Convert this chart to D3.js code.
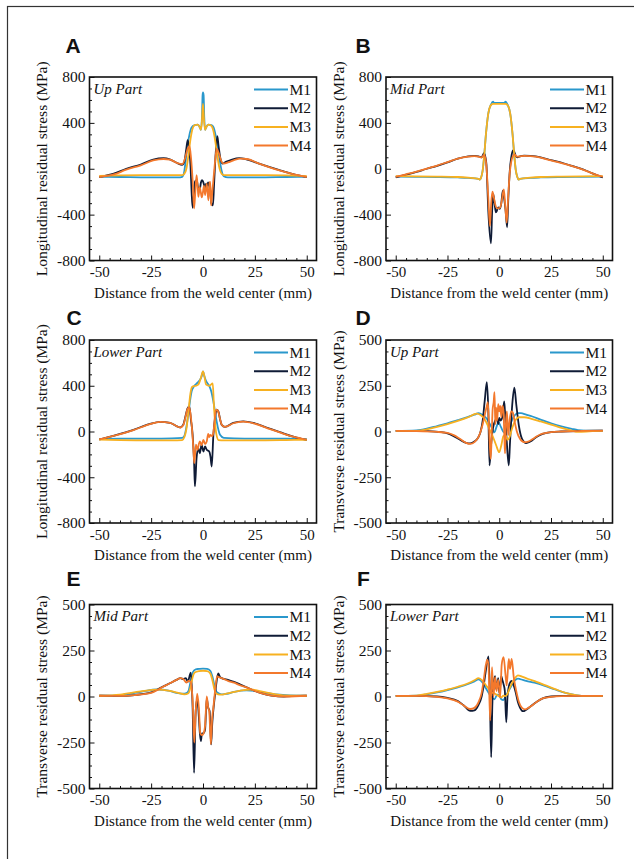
<!DOCTYPE html>
<html><head><meta charset="utf-8">
<script src="https://cdn.jsdelivr.net/npm/d3@7"></script>
<style>html,body{margin:0;padding:0;background:#fff;} svg{display:block;}</style>
</head><body>
<svg id="chart" width="634" height="859"></svg>
<script>
// ---------- DATA ----------
const seriesNames = ["M1", "M2", "M3", "M4"];
const xTicks = [-50, -25, 0, 25, 50];
const longTicks = [-800, -400, 0, 400, 800];
const transTicks = [-500, -250, 0, 250, 500];
const panelLetters = ["A", "B", "C", "D", "E", "F"];
const partNames = ["Up Part", "Mid Part", "Lower Part", "Up Part", "Mid Part", "Lower Part"];
const xTitle = "Distance from the weld center (mm)";
const longTitle = "Longitudinal residual stress (MPa)";
const transTitle = "Transverse residual stress (MPa)";

// Panel A - Up Part, longitudinal
const A_M1 = [[-50,-70],[-40,-72],[-30,-75],[-20,-76],[-12,-75],[-10,-70],[-9,-20],[-8.3,80],[-7.5,200],[-6.5,300],[-5.5,360],[-4,380],[-2.5,385],[-1.5,360],[-1,340],[-0.5,450],[-0.2,640],[0,665],[0.3,640],[0.6,450],[1,340],[1.5,360],[2.5,385],[4,380],[5,365],[6,300],[7,200],[8,80],[9,-20],[10,-65],[12,-75],[20,-76],[30,-75],[40,-72],[50,-70]];
const A_M2 = [[-50,-72],[-43,-42],[-37,0],[-30,37],[-24,80],[-19,92],[-16,82],[-12.5,50],[-10,35],[-9,60],[-8,180],[-7.4,250],[-6.8,200],[-6,20],[-5.5,-200],[-5,-340],[-4.5,-250],[-3.8,-110],[-3,-100],[-2.3,-170],[-1.5,-175],[-1,-120],[-0.5,-100],[0,-110],[0.5,-140],[1,-170],[1.5,-130],[2,-150],[2.5,-120],[3,-150],[3.5,-200],[4,-300],[4.8,-320],[5.3,-150],[6,100],[6.9,284],[7.5,200],[8.5,80],[9.5,45],[11,60],[14,80],[17.5,92],[20.5,85],[27,45],[36.5,-10],[43,-45],[50,-72]];
const A_M3 = [[-50,-62],[-40,-57],[-30,-55],[-20,-55],[-12,-55],[-10,-55],[-9,-45],[-8,0],[-7,120],[-6,260],[-5,350],[-4,380],[-2.5,385],[-1.5,360],[-1,340],[-0.5,420],[0,565],[0.5,420],[1,340],[1.5,360],[2.5,385],[4,375],[5,330],[6,230],[7,100],[8,0],[9,-45],[10,-55],[12,-55],[20,-55],[30,-55],[40,-57],[50,-65]];
const A_M4 = [[-50,-72],[-43,-50],[-37,-8],[-30,30],[-24,72],[-19,85],[-16,80],[-12.5,50],[-10,40],[-8.5,100],[-7.5,170],[-6.5,197],[-5.8,100],[-5,-100],[-4.3,-345],[-3.7,-200],[-3.1,-55],[-2.6,-150],[-2.2,-245],[-1.6,-160],[-1.1,-200],[-0.6,-250],[0,-200],[0.5,-150],[1,-230],[1.8,-130],[2.6,-275],[3.2,-120],[3.5,-115],[3.9,-320],[4.5,-200],[5,-100],[5.8,60],[6.6,176],[7.5,140],[9,60],[10,45],[12,55],[15,75],[18,88],[21,85],[27,45],[36,-10],[43,-45],[50,-72]];

// Panel B - Mid Part, longitudinal
const B_M1 = [[-50,-68],[-40,-70],[-30,-72],[-20,-76],[-15,-80],[-10,-88],[-9.3,-94],[-8.5,-60],[-8,-15],[-7.2,130],[-6.4,306],[-5.3,480],[-4,560],[-3,585],[-2.5,575],[0,575],[2.5,575],[3,585],[4,560],[5.3,480],[6.4,306],[7.2,130],[8,-15],[8.7,-70],[9.3,-94],[10,-88],[15,-80],[20,-76],[30,-72],[40,-70],[50,-68]];
const B_M2 = [[-50,-75],[-45,-52],[-40,-28],[-35,0],[-30,25],[-25,55],[-20,88],[-15,108],[-12,112],[-10,108],[-8.5,100],[-7.4,136],[-6.8,110],[-6.2,40],[-5.3,-364],[-4,-650],[-3.4,-350],[-2.9,-219],[-2.3,-300],[-1.6,-380],[-1.2,-370],[-0.5,-336],[0.3,-350],[1,-300],[1.7,-190],[2.3,-250],[3,-350],[3.8,-510],[4.4,-250],[5.1,-15],[5.8,100],[6.6,160],[7.2,150],[8,110],[8.7,100],[10,108],[12,114],[15,112],[20,100],[25,75],[31,48],[36,20],[40.7,-7],[45,-40],[50,-75]];
const B_M3 = [[-50,-65],[-40,-66],[-30,-68],[-20,-72],[-15,-78],[-10,-88],[-9.3,-94],[-8.5,-60],[-8,-15],[-7.2,130],[-6.4,306],[-5.3,480],[-4,555],[-3,565],[0,565],[3,565],[4,555],[5.3,480],[6.4,306],[7.2,130],[8,-15],[8.7,-70],[9.3,-94],[10,-88],[15,-78],[20,-72],[30,-68],[40,-66],[50,-65]];
const B_M4 = [[-50,-70],[-45,-48],[-40,-25],[-35,2],[-30,28],[-25,58],[-20,88],[-15,106],[-12,110],[-10,105],[-8.5,98],[-7.4,120],[-6.8,100],[-6.2,20],[-5.3,-250],[-4.5,-500],[-3.9,-300],[-3.3,-200],[-2.6,-250],[-1.8,-320],[-1,-345],[0.4,-340],[1.2,-280],[2.2,-180],[2.8,-300],[3.6,-470],[4.3,-250],[5.1,-30],[5.8,60],[6.6,110],[7.5,125],[8.5,105],[10,108],[12,112],[15,110],[20,98],[25,72],[31,45],[36,18],[40.7,-10],[45,-40],[50,-70]];

// Panel C - Lower Part, longitudinal
const C_M1 = [[-50,-65],[-40,-62],[-25,-62],[-15,-60],[-10,-55],[-9,-40],[-8,40],[-7,160],[-6.3,262],[-5.5,350],[-4.5,390],[-3,420],[-1.5,450],[-0.7,480],[0,525],[0.7,480],[1.5,440],[3,400],[4,350],[5,262],[6,150],[6.6,87],[7.5,10],[8.2,-29],[10,-55],[15,-60],[25,-62],[40,-62],[50,-65]];
const C_M2 = [[-50,-70],[-41.6,-29],[-33.5,15],[-25.5,67],[-20.7,85],[-15.9,75],[-12.5,45],[-11,35],[-9.5,60],[-8.5,130],[-7.5,200],[-6.6,219],[-5.8,100],[-5,-29],[-4.3,-262],[-3.9,-480],[-3.1,-233],[-2.3,-146],[-1.5,-190],[-0.7,-116],[0.2,-175],[1,-131],[1.8,-160],[3,-175],[3.6,-220],[4.2,-306],[5,-29],[5.8,120],[6.6,190],[7.4,175],[8.2,110],[9,58],[10.6,40],[14.6,75],[19.4,88],[24.2,75],[30.6,35],[37,-5],[43.5,-45],[50,-75]];
const C_M3 = [[-50,-70],[-40,-75],[-25,-78],[-15,-78],[-10,-75],[-9,-50],[-8,20],[-7,180],[-6,340],[-5.3,390],[-3.5,400],[-2.3,410],[-1,470],[0,525],[0.6,490],[1.5,410],[3,400],[4.7,420],[5.2,250],[5.8,80],[6.5,-30],[7.5,-75],[10,-78],[15,-78],[25,-78],[40,-75],[50,-72]];
const C_M4 = [[-50,-68],[-41.6,-32],[-33.5,12],[-25.5,65],[-20.7,85],[-15.9,75],[-12.5,45],[-11,35],[-9.5,55],[-8.5,120],[-7.5,195],[-6.6,210],[-5.8,120],[-5,-50],[-4.5,-200],[-4.2,-276],[-3.4,-116],[-2.6,-160],[-2,-110],[-1.5,-87],[-0.7,-120],[0.2,-73],[1,-110],[1.8,-87],[2.5,-20],[3,-50],[3.5,-30],[4.4,-40],[5,-10],[5.6,100],[6.3,190],[7.2,180],[8.2,110],[9,60],[10.6,40],[14.6,72],[19.4,86],[24.2,72],[30.6,32],[37,-8],[43.5,-45],[50,-72]];

// Panel D - Up Part, transverse
const D_M1 = [[-50,3],[-40,6],[-35,15],[-30,30],[-25,45],[-20,62],[-15,80],[-12,92],[-10,100],[-8,90],[-6,70],[-4,30],[-2.3,-5],[-1.5,20],[-0.3,50],[0.8,25],[2.3,-5],[3.5,10],[5,35],[7,80],[9,100],[10.5,100],[13,92],[16,82],[20,65],[25,45],[30,28],[35,15],[38,8],[45,5],[50,5]];
const D_M2 = [[-50,3],[-40,3],[-35,2],[-28,-3],[-25,-10],[-22,-25],[-19,-45],[-16,-62],[-14,-65],[-12,-55],[-10,-30],[-9,0],[-8,60],[-7,170],[-6,270],[-5.3,120],[-4.7,-185],[-4,-80],[-3,20],[-2,60],[-1.2,70],[-0.5,40],[0,75],[0.7,60],[1.5,80],[2.4,165],[3,60],[3.6,-50],[4.6,-185],[5.2,-60],[6.3,150],[7.3,240],[8.2,150],[9.5,30],[11,-40],[13,-63],[15,-55],[18,-30],[21,-13],[25,-3],[30,0],[40,3],[50,5]];
const D_M3 = [[-50,3],[-40,3],[-35,12],[-30,25],[-25,40],[-20,58],[-15,78],[-11,98],[-9,90],[-7,65],[-5,20],[-3,-30],[-1.5,-75],[0,-113],[1,-75],[2,-25],[3,-20],[4,-45],[5,-30],[6,10],[7.5,55],[9.5,78],[12,78],[16,68],[20,55],[25,38],[30,20],[35,5],[38,-2],[45,2],[50,3]];
const D_M4 = [[-50,3],[-40,2],[-30,-2],[-25,-8],[-22,-20],[-19,-40],[-16,-62],[-14,-68],[-12,-58],[-10,-30],[-9,0],[-8,40],[-7,90],[-6,140],[-5.5,160],[-5,40],[-4.5,-90],[-4.1,-150],[-3.6,0],[-3.2,120],[-2.7,160],[-2.3,215],[-1.9,40],[-1.5,130],[-1,60],[-0.5,150],[0,110],[0.5,140],[1,80],[1.5,140],[2,120],[2.5,-40],[2.8,-120],[3.2,40],[3.7,110],[4.3,-20],[5,60],[5.8,110],[6.5,105],[7.5,50],[8.5,0],[10,-40],[12,-58],[14,-55],[17,-35],[20,-15],[25,-3],[30,0],[40,3],[50,5]];

// Panel E - Mid Part, transverse
const E_M1 = [[-50,4],[-40,8],[-30,25],[-22,38],[-16,30],[-12,18],[-9.5,15],[-8,18],[-7,30],[-6,80],[-5,130],[-3.5,148],[-2,150],[0,152],[2,150],[3.5,140],[4.5,110],[5.5,60],[6.5,25],[8,15],[9.5,12],[11.5,15],[15,25],[21,33],[25,30],[29,22],[35,12],[40,8],[50,5]];
const E_M2 = [[-50,4],[-40,3],[-33,8],[-25,22],[-20,50],[-16,72],[-12.5,92],[-11,100],[-9.5,95],[-8.3,100],[-7.3,80],[-6.5,110],[-5.9,130],[-5,-60],[-4.3,-415],[-3.6,-100],[-3,-20],[-2.3,-60],[-1.5,-200],[-1,-243],[-0.5,-200],[0.2,-200],[1,-180],[1.8,-10],[2.5,-60],[3.2,-80],[3.9,-260],[4.5,-140],[5.2,-50],[6,30],[6.8,100],[7.4,125],[8.2,105],[9,100],[12,90],[15,80],[18,65],[21,50],[25,30],[28,18],[33,5],[39,0],[45,3],[50,4]];
const E_M3 = [[-50,4],[-40,10],[-30,28],[-22,37],[-16,30],[-12,20],[-9,12],[-7,18],[-6,50],[-5,105],[-4,130],[-2,138],[0,140],[2,138],[3.5,125],[4.5,90],[5.5,40],[6.5,15],[8,10],[10,12],[13,20],[18,32],[23,38],[28,28],[35,12],[42,5],[50,4]];
const E_M4 = [[-50,4],[-40,3],[-33,8],[-25,20],[-20,48],[-16,72],[-12.5,92],[-11,100],[-9.5,95],[-8,75],[-7,85],[-6,80],[-5,-20],[-4.2,-250],[-3.5,-80],[-2.8,15],[-2,-60],[-1.3,-200],[-0.5,-210],[0.3,-200],[1,-160],[1.8,0],[2.5,-60],[3,-80],[3.8,-260],[4.4,-120],[5,-60],[5.8,30],[6.8,110],[7.6,105],[9,100],[12,85],[15,75],[18,60],[21,50],[25,30],[28,18],[33,5],[40,0],[50,4]];

// Panel F - Lower Part, transverse
const F_M1 = [[-50,3],[-40,5],[-35,12],[-30,22],[-25,35],[-20,50],[-15,68],[-12,82],[-10,93],[-8,75],[-6.3,42],[-4,0],[-2.3,-15],[-1,10],[0,5],[1,-15],[2,-20],[3,0],[4.5,30],[6,60],[7.5,87],[9,97],[10,95],[13,85],[17,75],[22,58],[27,38],[32,20],[37,8],[42,3],[50,3]];
const F_M2 = [[-50,3],[-40,3],[-30,0],[-25,-8],[-20,-25],[-17,-50],[-14,-78],[-12,-75],[-10,-45],[-8.5,0],[-7.5,60],[-6.5,140],[-5.2,218],[-4.6,50],[-3.9,-330],[-3.3,-30],[-2.6,80],[-2,110],[-1.5,40],[-1,60],[-0.5,100],[0,20],[0.5,60],[1,110],[1.5,90],[2,70],[2.7,30],[3.4,-140],[4,0],[5,70],[6,85],[7,60],[8,20],[9,-30],[10,-60],[11.5,-80],[13,-72],[15,-55],[18,-30],[21,-10],[25,0],[30,3],[40,3],[50,3]];
const F_M3 = [[-50,3],[-40,5],[-35,14],[-30,25],[-25,38],[-20,53],[-15,72],[-12,88],[-10,100],[-8,85],[-6,55],[-4,25],[-2,15],[0,0],[1,-5],[2,5],[3,2],[4,15],[5,45],[6.5,80],[8,105],[9,115],[11,108],[14,95],[18,80],[22,62],[27,40],[32,20],[37,8],[42,3],[50,3]];
const F_M4 = [[-50,3],[-40,3],[-30,-2],[-25,-10],[-20,-28],[-17,-50],[-14,-68],[-12,-62],[-10,-30],[-8.5,20],[-7.5,90],[-6.5,170],[-5.8,200],[-5.2,170],[-4.4,-130],[-3.5,160],[-2.8,0],[-2,105],[-1.3,30],[-0.5,90],[0.4,-5],[1.2,175],[2.1,214],[3,120],[3.6,60],[4.6,205],[5.2,150],[6,205],[7,105],[8.2,30],[9.5,-30],[11,-62],[12.5,-70],[15,-55],[18,-30],[21,-10],[25,-2],[30,2],[40,3],[50,3]];

// ---------- STYLE / LAYOUT ----------
const colors = ["#2a98cc", "#0f1b36", "#f7b120", "#f3782c"];
const serif = "'Liberation Serif','Times New Roman',serif";
const sans = "'Liberation Sans',Arial,sans-serif";
const colX = [[89.5, 316.5], [386, 612.5]];
const rowY = [[77, 260.5], [340, 523], [604.5, 788.5]];
const letterPos = [[65.5, 52.5], [355.5, 52.5], [66.5, 325], [355.5, 324.5], [66.5, 586], [357, 586]];

const panels = [
  {series: [A_M1, A_M2, A_M3, A_M4], col: 0, row: 0, ticks: longTicks, title: longTitle},
  {series: [B_M1, B_M2, B_M3, B_M4], col: 1, row: 0, ticks: longTicks, title: longTitle},
  {series: [C_M1, C_M2, C_M3, C_M4], col: 0, row: 1, ticks: longTicks, title: longTitle},
  {series: [D_M1, D_M2, D_M3, D_M4], col: 1, row: 1, ticks: transTicks, title: transTitle},
  {series: [E_M1, E_M2, E_M3, E_M4], col: 0, row: 2, ticks: transTicks, title: transTitle},
  {series: [F_M1, F_M2, F_M3, F_M4], col: 1, row: 2, ticks: transTicks, title: transTitle}
];

const svg = d3.select("#chart");
svg.append("rect").attr("width", 634).attr("height", 859).attr("fill", "#fff");
// outer frame
svg.append("rect").attr("x", 7.5).attr("y", 6.5).attr("width", 700).attr("height", 900)
  .attr("fill", "none").attr("stroke", "#333").attr("stroke-width", 1.2);

panels.forEach((p, i) => {
  const [x0, x1] = colX[p.col];
  const [y0, y1] = rowY[p.row];
  const yMax = d3.max(p.ticks);
  const x = d3.scaleLinear().domain([-54.7, 54.7]).range([x0, x1]);
  const y = d3.scaleLinear().domain([-yMax, yMax]).range([y1, y0]);
  const g = svg.append("g");
  const majorStep = p.ticks[1] - p.ticks[0];
  const minorY = d3.range(-yMax, yMax + 1, majorStep / 4).filter(v => !p.ticks.includes(v));
  const minorX = d3.range(-50, 51, 5).filter(v => !xTicks.includes(v));

  // minor ticks
  g.append("g").attr("transform", `translate(${x0},0)`)
    .call(d3.axisLeft(y).tickValues(minorY).tickSize(-2.5).tickFormat(""))
    .call(s => s.select(".domain").remove());
  g.append("g").attr("transform", `translate(0,${y1})`)
    .call(d3.axisBottom(x).tickValues(minorX).tickSize(-2.5).tickFormat(""))
    .call(s => s.select(".domain").remove());
  // major ticks
  const ya = g.append("g").attr("transform", `translate(${x0},0)`)
    .call(d3.axisLeft(y).tickValues(p.ticks).tickSize(-5).tickPadding(4).tickFormat(d => String(d)))
    .call(s => s.select(".domain").remove());
  ya.selectAll("text").attr("font-family", serif).attr("font-size", 15.5).attr("fill", "#111");
  const xa = g.append("g").attr("transform", `translate(0,${y1})`)
    .call(d3.axisBottom(x).tickValues(xTicks).tickSize(-5).tickPadding(6).tickFormat(d => String(d)))
    .call(s => s.select(".domain").remove());
  xa.selectAll("text").attr("font-family", serif).attr("font-size", 15).attr("fill", "#111");
  g.selectAll(".tick line").attr("stroke", "#111");

  // lines
  const line = d3.line().x(d => x(d[0])).y(d => y(d[1])).curve(d3.curveMonotoneX);
  p.series.forEach((s, k) => {
    g.append("path").datum(s).attr("d", line).attr("fill", "none")
      .attr("stroke", colors[k]).attr("stroke-width", 1.8).attr("stroke-linejoin", "round");
  });

  // frame
  g.append("rect").attr("x", x0).attr("y", y0).attr("width", x1 - x0).attr("height", y1 - y0)
    .attr("fill", "none").attr("stroke", "#111").attr("stroke-width", 1.6);

  // legend
  seriesNames.forEach((name, k) => {
    const ly = y0 + 12.5 + k * 18.7;
    g.append("line").attr("x1", x1 - 62.5).attr("x2", x1 - 28.5).attr("y1", ly).attr("y2", ly)
      .attr("stroke", colors[k]).attr("stroke-width", 2);
    g.append("text").attr("x", x1 - 27).attr("y", ly + 5.2).text(name)
      .attr("font-family", serif).attr("font-size", 15.5).attr("fill", "#111");
  });

  // part name
  g.append("text").attr("x", x0 + 4).attr("y", y0 + 16.5).text(partNames[i])
    .attr("font-family", serif).attr("font-style", "italic").attr("font-size", 15).attr("fill", "#111");

  // axis titles
  g.append("text").attr("x", (x0 + x1) / 2).attr("y", y1 + 37).attr("text-anchor", "middle")
    .text(xTitle).attr("font-family", serif).attr("font-size", 15).attr("fill", "#111");
  g.append("text").attr("transform", `translate(${x0 - 42.5},${(y0 + y1) / 2}) rotate(-90)`)
    .attr("text-anchor", "middle").text(p.title)
    .attr("font-family", serif).attr("font-size", 15.5).attr("fill", "#111");

  // panel letter
  g.append("text").attr("x", letterPos[i][0]).attr("y", letterPos[i][1]).text(panelLetters[i])
    .attr("font-family", sans).attr("font-weight", "bold").attr("font-size", 21).attr("fill", "#111");
});
</script>
</body></html>
